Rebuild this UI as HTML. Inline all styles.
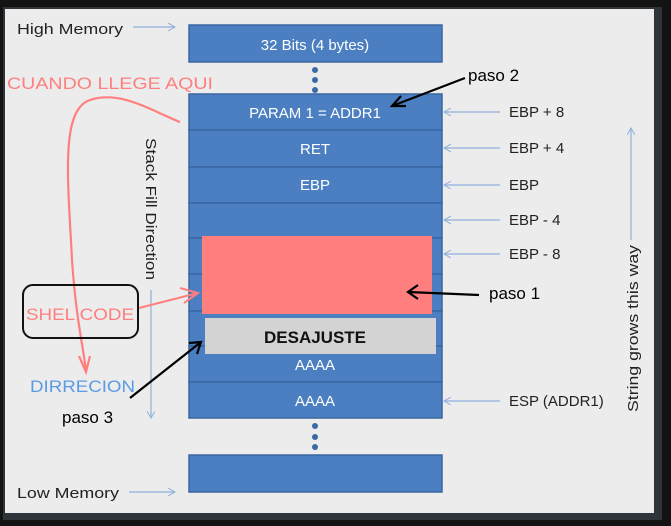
<!DOCTYPE html>
<html><head><meta charset="utf-8"><style>
html,body{margin:0;padding:0;background:#131313;width:671px;height:526px;overflow:hidden}
svg{display:block}
text{font-family:"Liberation Sans",sans-serif}
</style></head><body>
<svg width="671" height="526" viewBox="0 0 671 526" xmlns="http://www.w3.org/2000/svg">
<defs>
<marker id="ba" markerWidth="8" markerHeight="8" refX="7" refY="4" orient="auto" markerUnits="userSpaceOnUse"><path d="M0,0 L7,4 L0,8" fill="none" stroke="#8fb0dc" stroke-width="1"/></marker>
</defs>
<rect x="0" y="0" width="671" height="526" fill="#131313"/>
<rect x="3" y="7" width="659" height="513" fill="#2f343b"/>
<rect x="5" y="9" width="649" height="504" fill="#ececec"/>

<g fill="#4b7fc1" stroke="#3a679f" stroke-width="1.5">
<rect x="189" y="25" width="253" height="37"/>
<rect x="189" y="94" width="253" height="36"/>
<rect x="189" y="130" width="253" height="37"/>
<rect x="189" y="167" width="253" height="36"/>
<rect x="189" y="203" width="253" height="35"/>
<rect x="189" y="238" width="253" height="36"/>
<rect x="189" y="274" width="253" height="37"/>
<rect x="189" y="311" width="253" height="35"/>
<rect x="189" y="346" width="253" height="36"/>
<rect x="189" y="382" width="253" height="36"/>
<rect x="189" y="455" width="253" height="37"/>
</g>
<g fill="#3a6aa6">
<circle cx="315" cy="70" r="3"/><circle cx="315" cy="80" r="3"/><circle cx="315" cy="90" r="3"/>
<circle cx="315" cy="426" r="3"/><circle cx="315" cy="437" r="3"/><circle cx="315" cy="447" r="3"/>
</g>
<rect x="202" y="236" width="230" height="78" fill="#ff7f7f"/>
<rect x="205" y="318" width="231" height="36" fill="#d3d3d3"/>

<g fill="#fff" font-size="15" text-anchor="middle">
<text x="315" y="50">32 Bits (4 bytes)</text>
<text x="315" y="118">PARAM 1 = ADDR1</text>
<text x="315" y="154">RET</text>
<text x="315" y="190">EBP</text>
<text x="315" y="370">AAAA</text>
<text x="315" y="406">AAAA</text>
</g>
<text x="315" y="343" font-size="17" font-weight="bold" text-anchor="middle" fill="#111">DESAJUSTE</text>

<g fill="#222" font-size="15">
<text x="17" y="34" textLength="106" lengthAdjust="spacingAndGlyphs">High Memory</text>
<text x="17" y="498" textLength="102" lengthAdjust="spacingAndGlyphs">Low Memory</text>
<text x="509" y="117">EBP + 8</text>
<text x="509" y="153">EBP + 4</text>
<text x="509" y="190">EBP</text>
<text x="509" y="225">EBP - 4</text>
<text x="509" y="259">EBP - 8</text>
<text x="509" y="406">ESP (ADDR1)</text>
</g>
<text transform="translate(146,138) rotate(90)" font-size="15" fill="#222" textLength="142" lengthAdjust="spacingAndGlyphs">Stack Fill Direction</text>
<text transform="translate(638,412) rotate(-90)" font-size="15" fill="#222" textLength="167" lengthAdjust="spacingAndGlyphs">String grows this way</text>

<g stroke="#8fb0dc" stroke-width="1.2" fill="none" marker-end="url(#ba)">
<line x1="133" y1="27" x2="175" y2="27"/>
<line x1="129" y1="492" x2="175" y2="492"/>
<line x1="500" y1="112" x2="444" y2="112"/>
<line x1="500" y1="148" x2="444" y2="148"/>
<line x1="500" y1="185" x2="444" y2="185"/>
<line x1="500" y1="220" x2="444" y2="220"/>
<line x1="500" y1="254" x2="444" y2="254"/>
<line x1="500" y1="401" x2="444" y2="401"/>
<line x1="151" y1="290" x2="151" y2="418"/>
<line x1="631" y1="240" x2="631" y2="128"/>
</g>

<g fill="#000" font-size="17">
<text x="468" y="81">paso 2</text>
<text x="489" y="299">paso 1</text>
<text x="62" y="423">paso 3</text>
</g>
<g stroke="#000" stroke-width="2.2" fill="none">
<path d="M465 78 L392 106"/><path d="M401 96 L392 106 L406 106"/>
<path d="M479 295 L408 292"/><path d="M418 285 L408 292 L418 299"/>
<path d="M130 398 L201 342"/><path d="M189 343 L201 342 L197 354"/>
</g>

<text x="7" y="89" font-size="17" fill="#ff7f7f" textLength="206" lengthAdjust="spacingAndGlyphs">CUANDO LLEGE AQUI</text>
<path d="M180 122 C150 110 120 90 90 100 C60 110 68 180 72 260 C76 320 84 350 86 372" fill="none" stroke="#ff7f7f" stroke-width="2.2"/>
<path d="M79 356 L86 372 L90 356" fill="none" stroke="#ff7f7f" stroke-width="2.2"/>
<rect x="23" y="285" width="115" height="53" rx="10" fill="none" stroke="#111" stroke-width="2"/>
<text x="26" y="320" font-size="17" fill="#ff7f7f" textLength="108" lengthAdjust="spacingAndGlyphs">SHEL CODE</text>
<path d="M139 308 L198 293" stroke="#ff7f7f" stroke-width="2" fill="none"/>
<path d="M180 288 L198 293 L184 303" stroke="#ff7f7f" stroke-width="2" fill="none"/>
<text x="30" y="392" font-size="17" fill="#5a9be6" textLength="105" lengthAdjust="spacingAndGlyphs">DIRRECION</text>
</svg>
</body></html>
